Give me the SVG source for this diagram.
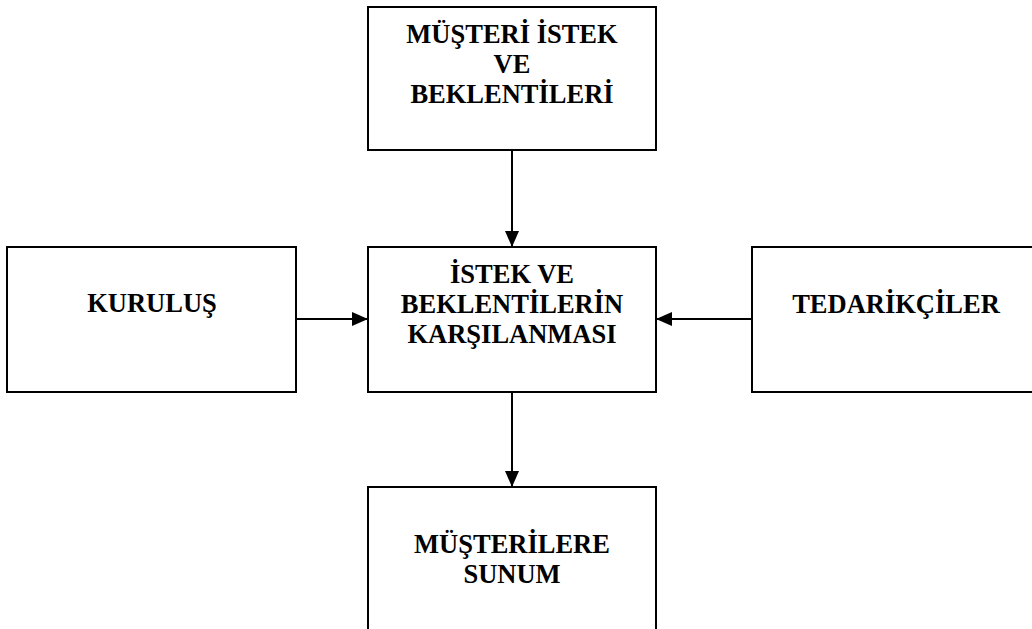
<svg xmlns="http://www.w3.org/2000/svg" width="1032" height="629" viewBox="0 0 1032 629">
  <style>
    .box { fill: #ffffff; stroke: #000000; stroke-width: 2; }
    .label { font-family: "Liberation Serif", "Times New Roman", serif; font-weight: bold; font-size: 26.5px; fill: #000000; text-anchor: middle; }
    .link { stroke: #000000; stroke-width: 2; fill: none; marker-end: url(#arrow); }
  </style>
  <defs>
    <marker id="arrow" markerUnits="userSpaceOnUse" markerWidth="16" markerHeight="14" refX="16" refY="7" orient="auto">
      <path d="M0,0 L16,7 L0,14 Z" fill="#000000"/>
    </marker>
  </defs>
  <rect width="1032" height="629" fill="#ffffff"/>

  <g id="connectors">
    <line class="link" x1="512" y1="150" x2="512" y2="247"/>
    <line class="link" x1="296" y1="319" x2="368" y2="319"/>
    <line class="link" x1="752" y1="319" x2="656" y2="319"/>
    <line class="link" x1="512" y1="392" x2="512" y2="487"/>
  </g>

  <g id="musteri-istek">
    <rect class="box" x="368" y="7" width="288" height="143"/>
    <text class="label" x="512" y="43">MÜŞTERİ İSTEK</text>
    <text class="label" x="512" y="73">VE</text>
    <text class="label" x="512" y="103">BEKLENTİLERİ</text>
  </g>

  <g id="karsilanma">
    <rect class="box" x="368" y="247" width="288" height="145"/>
    <text class="label" x="512" y="283">İSTEK VE</text>
    <text class="label" x="512" y="313">BEKLENTİLERİN</text>
    <text class="label" x="512" y="343">KARŞILANMASI</text>
  </g>

  <g id="kurulus">
    <rect class="box" x="7" y="247" width="289" height="145"/>
    <text class="label" x="152" y="312">KURULUŞ</text>
  </g>

  <g id="tedarikciler">
    <rect class="box" x="752" y="247" width="290" height="145"/>
    <text class="label" x="896" y="313">TEDARİKÇİLER</text>
  </g>

  <g id="sunum">
    <rect class="box" x="368" y="487" width="288" height="160"/>
    <text class="label" x="512" y="553">MÜŞTERİLERE</text>
    <text class="label" x="512" y="583">SUNUM</text>
  </g>
</svg>
